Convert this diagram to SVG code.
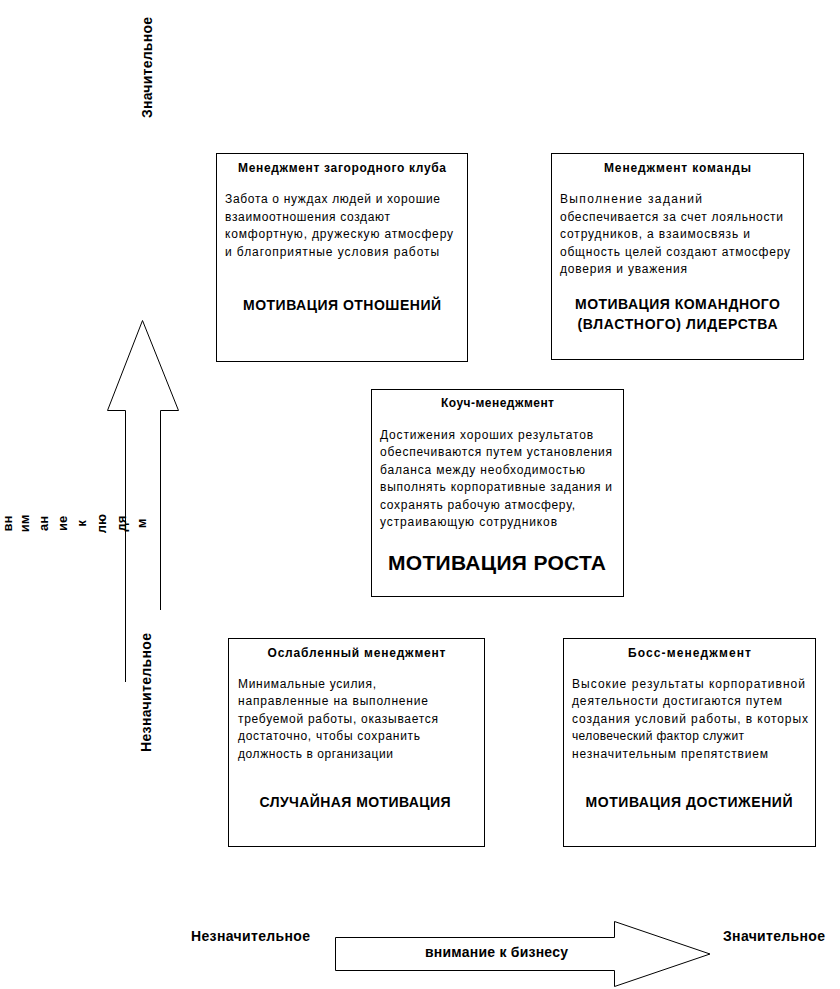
<svg xmlns="http://www.w3.org/2000/svg" width="840" height="989" viewBox="0 0 840 989">
<style>
text{font-family:"Liberation Sans",Arial,sans-serif;fill:#000}
.box{fill:#fff;stroke:#000;stroke-width:1}
.ttl{font-size:12px;font-weight:bold;text-anchor:middle}
.bd{font-size:12px}
.lbl{font-size:14px;font-weight:bold;text-anchor:middle}
.big{font-size:21px;font-weight:bold;text-anchor:middle}
.ax{font-size:14px;font-weight:bold}
.pc{font-size:13px;font-weight:bold;text-anchor:middle}
.arr{fill:#fff;stroke:#000;stroke-width:1}
</style>
<rect width="840" height="989" fill="#fff"/>

<g id="connectors">
  <path class="arr" d="M125.5,682 V410.5 H107.5 L142.5,320.5 L178.5,410.5 H160.5 V610" fill="none"/>
  <polygon class="arr" points="335.5,937.5 614.5,937.5 614.5,921.5 710,954 614.5,986.5 614.5,970.5 335.5,970.5"/>
</g>

<g id="axis-labels">
  <text class="ax" transform="translate(152,118) rotate(-90)" textLength="101" lengthAdjust="spacing">Значительное</text>
  <text class="ax" transform="translate(151,752) rotate(-90)" textLength="119" lengthAdjust="spacing">Незначительное</text>
  <text class="pc" transform="translate(11.5,523.5) rotate(-90)">вн</text>
  <text class="pc" transform="translate(28.5,523.5) rotate(-90)">им</text>
  <text class="pc" transform="translate(47.5,523.5) rotate(-90)">ан</text>
  <text class="pc" transform="translate(66.5,523.5) rotate(-90)">ие</text>
  <text class="pc" transform="translate(86,523.5) rotate(-90)">к</text>
  <text class="pc" transform="translate(105.5,523.5) rotate(-90)">лю</text>
  <text class="pc" transform="translate(125.5,523.5) rotate(-90)">дя</text>
  <text class="pc" transform="translate(145.5,523.5) rotate(-90)">м</text>
  <text class="ax" x="191" y="941" textLength="119" lengthAdjust="spacing">Незначительное</text>
  <text class="ax" x="723" y="941" textLength="102" lengthAdjust="spacing">Значительное</text>
  <text class="ax" x="425" y="957" font-size="13" textLength="143" lengthAdjust="spacing">внимание к бизнесу</text>
</g>

<g id="country-club">
  <rect class="box" x="216.5" y="153.5" width="251" height="208"/>
  <text class="ttl" x="342" y="172" textLength="208" lengthAdjust="spacing">Менеджмент загородного клуба</text>
  <text class="bd" x="225" y="203" textLength="215" lengthAdjust="spacing">Забота о нуждах людей и хорошие</text>
  <text class="bd" x="225" y="220.5" textLength="165" lengthAdjust="spacing">взаимоотношения создают</text>
  <text class="bd" x="225" y="238" textLength="228" lengthAdjust="spacing">комфортную, дружескую атмосферу</text>
  <text class="bd" x="225" y="255.5" textLength="214" lengthAdjust="spacing">и благоприятные условия работы</text>
  <text class="lbl" x="342" y="310" textLength="198" lengthAdjust="spacing">МОТИВАЦИЯ ОТНОШЕНИЙ</text>
</g>

<g id="team">
  <rect class="box" x="551.5" y="153.5" width="252" height="206"/>
  <text class="ttl" x="677.5" y="172" textLength="147" lengthAdjust="spacing">Менеджмент команды</text>
  <text class="bd" x="560" y="203" textLength="142" lengthAdjust="spacing">Выполнение заданий</text>
  <text class="bd" x="560" y="220.5" textLength="223" lengthAdjust="spacing">обеспечивается за счет лояльности</text>
  <text class="bd" x="560" y="238" textLength="190" lengthAdjust="spacing">сотрудников, а взаимосвязь и</text>
  <text class="bd" x="560" y="255.5" textLength="230" lengthAdjust="spacing">общность целей создают атмосферу</text>
  <text class="bd" x="560" y="273" textLength="127" lengthAdjust="spacing">доверия и уважения</text>
  <text class="lbl" x="677.5" y="308.5" textLength="205" lengthAdjust="spacing">МОТИВАЦИЯ КОМАНДНОГО</text>
  <text class="lbl" x="677.5" y="328.5" textLength="200" lengthAdjust="spacing">(ВЛАСТНОГО) ЛИДЕРСТВА</text>
</g>

<g id="coach">
  <rect class="box" x="371.5" y="389.5" width="252" height="207"/>
  <text class="ttl" x="497.5" y="407" textLength="113" lengthAdjust="spacing">Коуч-менеджмент</text>
  <text class="bd" x="380" y="438.5" textLength="213" lengthAdjust="spacing">Достижения хороших результатов</text>
  <text class="bd" x="380" y="456" textLength="232" lengthAdjust="spacing">обеспечиваются путем установления</text>
  <text class="bd" x="380" y="473.5" textLength="205" lengthAdjust="spacing">баланса между необходимостью</text>
  <text class="bd" x="380" y="491" textLength="232" lengthAdjust="spacing">выполнять корпоративные задания и</text>
  <text class="bd" x="380" y="508.5" textLength="195" lengthAdjust="spacing">сохранять рабочую атмосферу,</text>
  <text class="bd" x="380" y="526" textLength="177" lengthAdjust="spacing">устраивающую сотрудников</text>
  <text class="big" x="497" y="570" textLength="218" lengthAdjust="spacing">МОТИВАЦИЯ РОСТА</text>
</g>

<g id="impoverished">
  <rect class="box" x="228.5" y="638.5" width="256" height="208"/>
  <text class="ttl" x="356.5" y="656.5" textLength="178" lengthAdjust="spacing">Ослабленный менеджмент</text>
  <text class="bd" x="238" y="687.5" textLength="138" lengthAdjust="spacing">Минимальные усилия,</text>
  <text class="bd" x="238" y="705" textLength="190" lengthAdjust="spacing">направленные на выполнение</text>
  <text class="bd" x="238" y="722.5" textLength="200" lengthAdjust="spacing">требуемой работы, оказывается</text>
  <text class="bd" x="238" y="740" textLength="182" lengthAdjust="spacing">достаточно, чтобы сохранить</text>
  <text class="bd" x="238" y="757.5" textLength="155" lengthAdjust="spacing">должность в организации</text>
  <text class="lbl" x="355" y="807" textLength="191" lengthAdjust="spacing">СЛУЧАЙНАЯ МОТИВАЦИЯ</text>
</g>

<g id="boss">
  <rect class="box" x="563.5" y="638.5" width="252" height="208"/>
  <text class="ttl" x="689.5" y="656.5" textLength="123" lengthAdjust="spacing">Босс-менеджмент</text>
  <text class="bd" x="572" y="687.5" textLength="233" lengthAdjust="spacing">Высокие результаты корпоративной</text>
  <text class="bd" x="572" y="705" textLength="210" lengthAdjust="spacing">деятельности достигаются путем</text>
  <text class="bd" x="572" y="722.5" textLength="236" lengthAdjust="spacing">создания условий работы, в которых</text>
  <text class="bd" x="572" y="740" textLength="172" lengthAdjust="spacing">человеческий фактор служит</text>
  <text class="bd" x="572" y="757.5" textLength="196" lengthAdjust="spacing">незначительным препятствием</text>
  <text class="lbl" x="689" y="807" textLength="207" lengthAdjust="spacing">МОТИВАЦИЯ ДОСТИЖЕНИЙ</text>
</g>
</svg>
